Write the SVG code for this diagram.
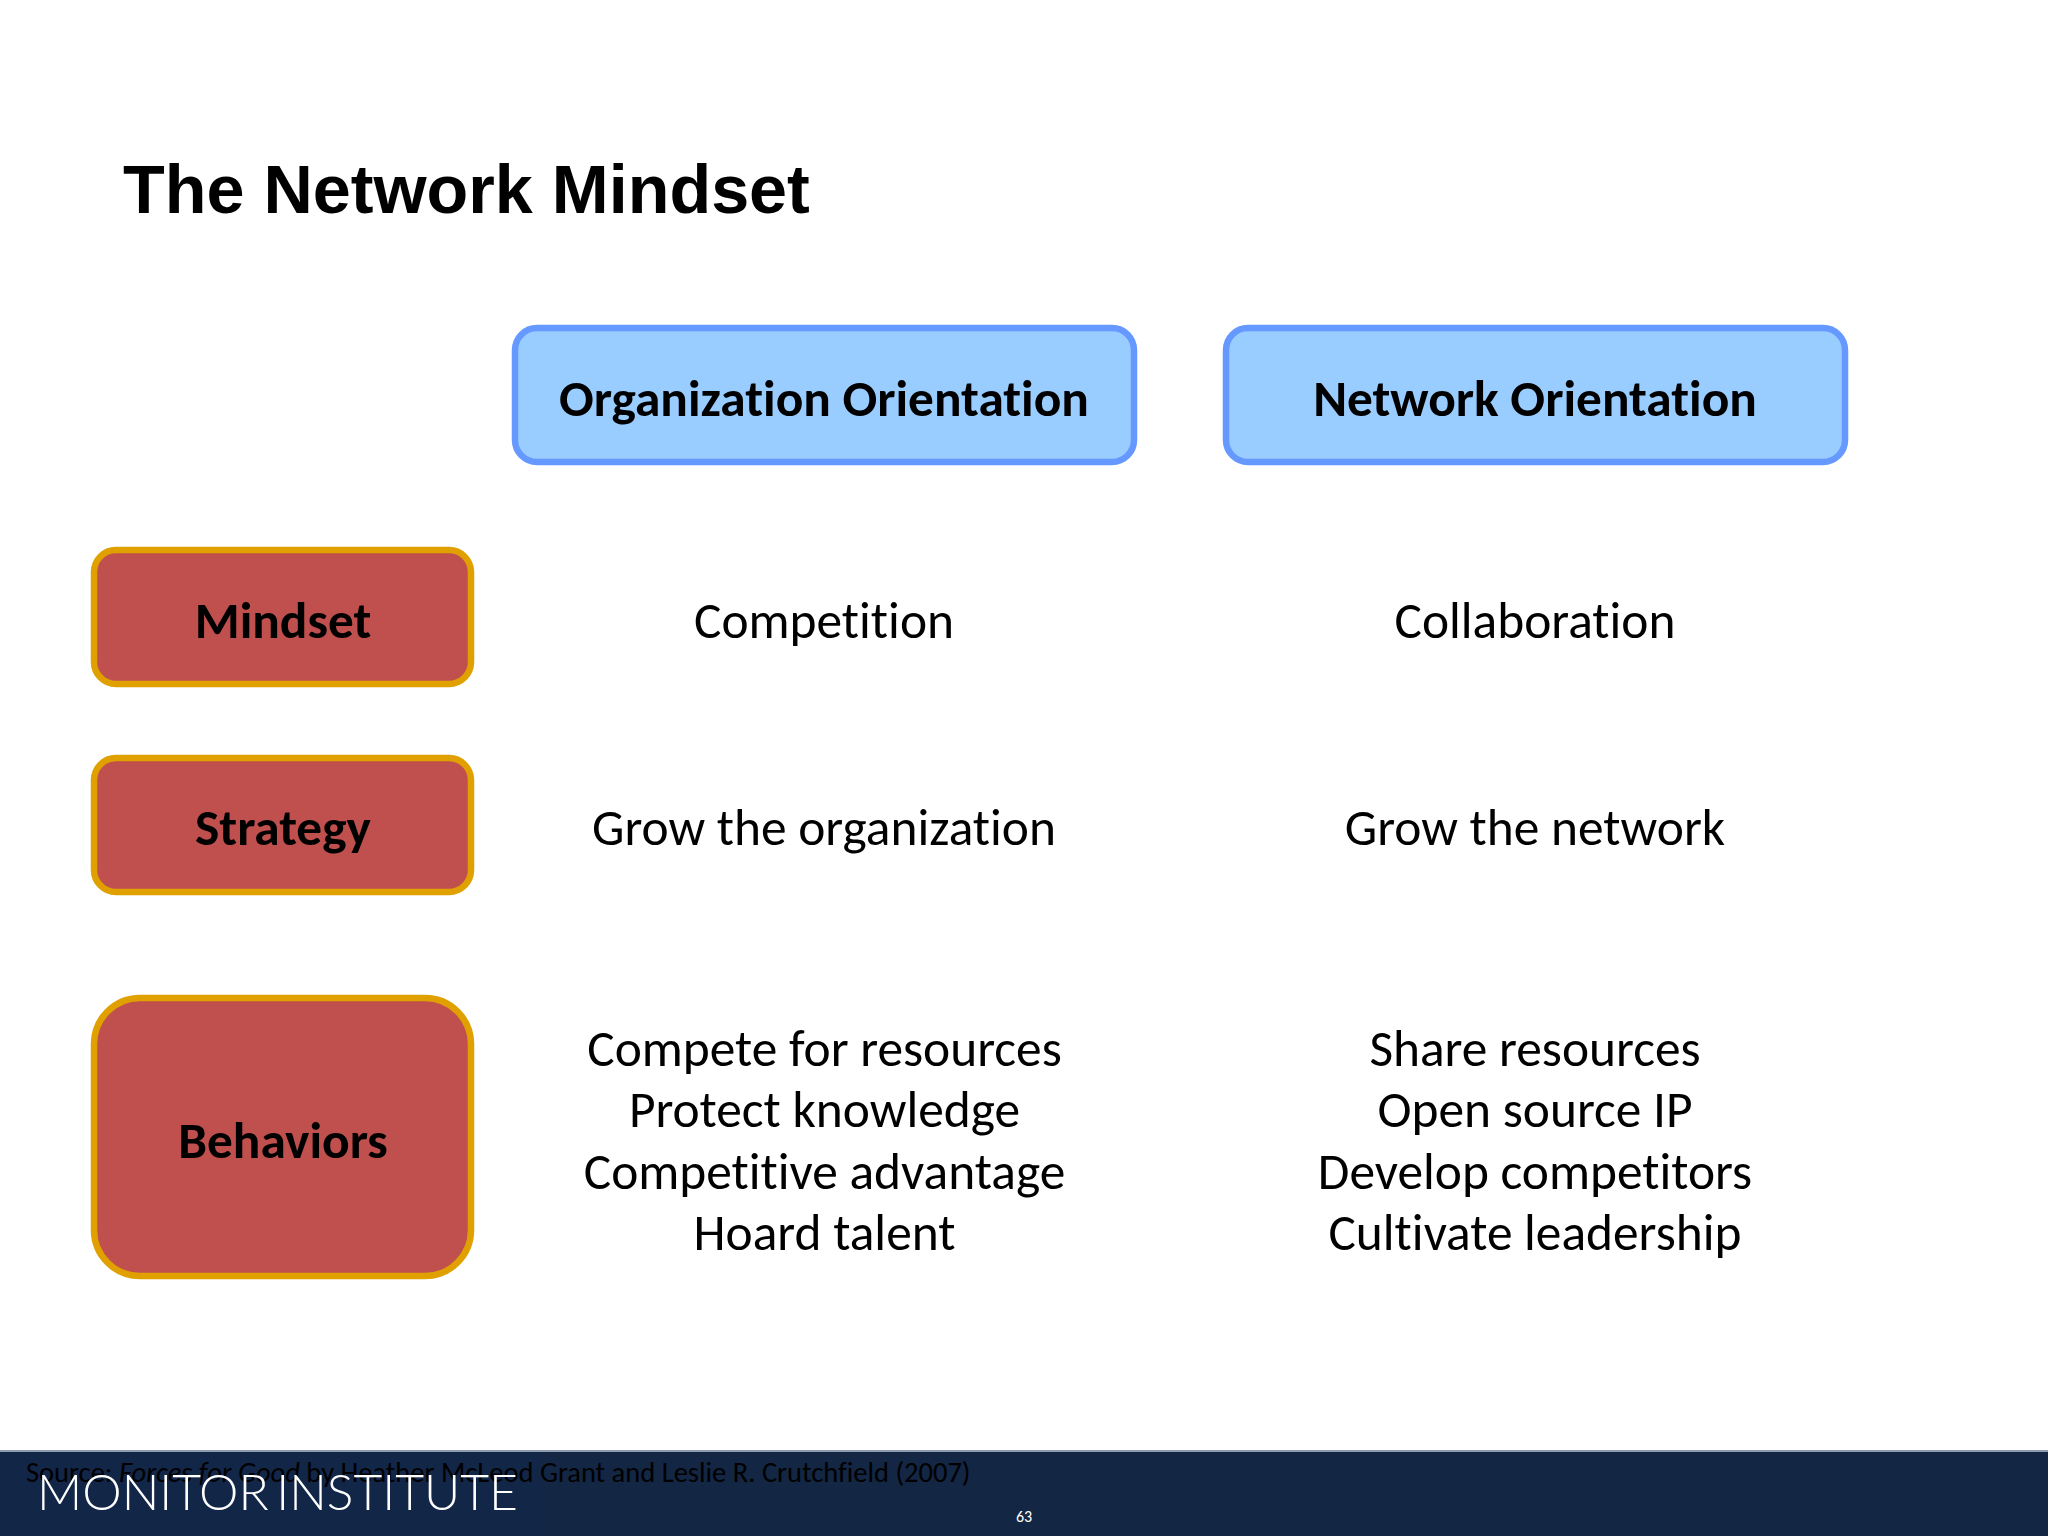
<svg xmlns="http://www.w3.org/2000/svg" width="2048" height="1536" viewBox="0 0 2048 1536">
<style>
.h{fill:#99ccff;stroke:#6699ff;stroke-width:6.5}
.r{fill:#c0504d;stroke:#e0a000;stroke-width:6.5}
text{font-family:Carlito,"Open Sans","Noto Sans",sans-serif;text-anchor:middle;fill:#000;font-variant-ligatures:none}
.b{font-weight:700;font-size:51.4px}
.t{font-size:51.4px}
</style>
<rect width="2048" height="1536" fill="#fff"/>
<text x="123" y="213" style="font-family:'Liberation Sans',sans-serif;text-anchor:start;font-weight:700;font-size:68.3px">The Network Mindset</text>
<g id="org"><rect class="h" x="515" y="328" width="619" height="134" rx="22"/><text class="b" x="824" y="416">Organization Orientation</text></g>
<g id="net"><rect class="h" x="1226" y="328" width="619" height="134" rx="22"/><text class="b" x="1535" y="416">Network Orientation</text></g>
<g id="mindset"><rect class="r" x="94" y="550" width="377" height="134" rx="22"/><text class="b" x="283" y="638">Mindset</text></g>
<g id="strategy"><rect class="r" x="94" y="758" width="377" height="134" rx="22"/><text class="b" x="283" y="845">Strategy</text></g>
<g id="behaviors"><rect class="r" x="94" y="998" width="377" height="278" rx="46"/><text class="b" x="283" y="1158">Behaviors</text></g>
<g id="c1"><text class="t" x="824" y="638">Competition</text><text class="t" x="1535" y="638">Collaboration</text></g>
<g id="c2"><text class="t" x="824" y="845">Grow the organization</text><text class="t" x="1535" y="845">Grow the network</text></g>
<g id="c3"><text class="t" x="824.5" y="1066">Compete for resources</text><text class="t" x="824.5" y="1127">Protect knowledge</text><text class="t" x="824.5" y="1189">Competitive advantage</text><text class="t" x="824.5" y="1250">Hoard talent</text>
<text class="t" x="1535" y="1066">Share resources</text><text class="t" x="1535" y="1127">Open source IP</text><text class="t" x="1535" y="1189">Develop competitors</text><text class="t" x="1535" y="1250">Cultivate leadership</text></g>
<g id="footer"><rect y="1450" width="2048" height="86" fill="#132643"/><rect y="1450" width="2048" height="2" fill="#8c9bb0"/><rect y="1452" width="542" height="84" fill="#13274a" opacity=".7"/>
<text x="26" y="1482" style="text-anchor:start;font-size:28.5px"><tspan>Source: </tspan><tspan font-style="italic">Forces for Good</tspan><tspan> by Heather McLeod Grant and Leslie R. Crutchfield (2007)</tspan></text>
<text x="37" y="1510" style="font-family:Lato,'Liberation Serif',serif;font-weight:300;text-anchor:start;font-size:50px;fill:#fff;word-spacing:-6px" textLength="481" lengthAdjust="spacingAndGlyphs">MONITOR INSTITUTE</text>
<text x="1024" y="1522" style="font-size:16px;fill:#fff">63</text></g>
</svg>
